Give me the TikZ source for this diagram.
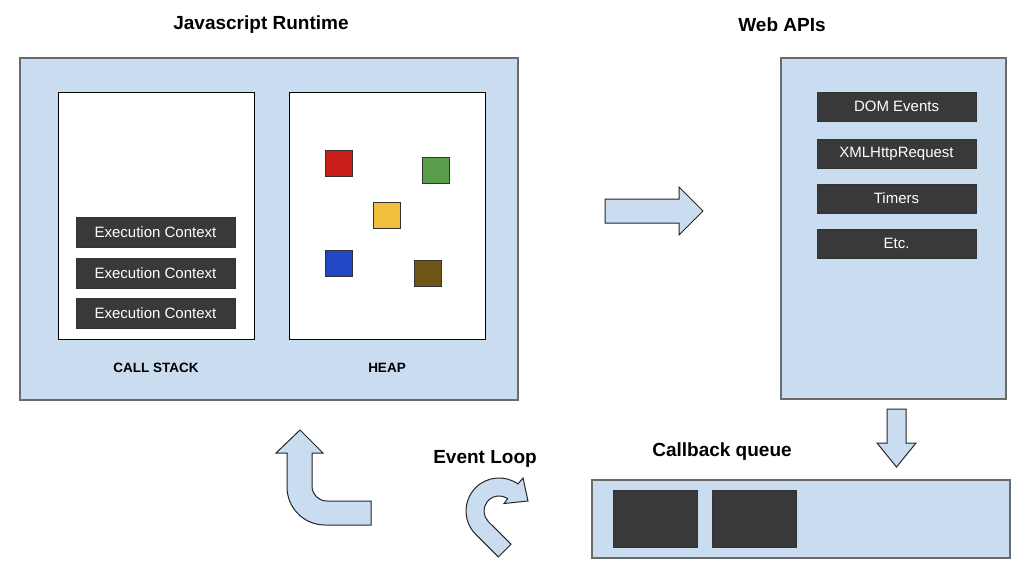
\documentclass[tikz,border=0pt]{standalone}
\usepackage{fontspec}
\setmainfont{Liberation Sans}
\definecolor{lblue}{HTML}{C9DCF0}
\definecolor{dbox}{HTML}{393939}
\definecolor{bgray}{HTML}{6B6B6B}
\definecolor{hred}{HTML}{C81F1A}
\definecolor{hgreen}{HTML}{5A9E4B}
\definecolor{hyellow}{HTML}{F0BF3C}
\definecolor{hblue}{HTML}{2148C4}
\definecolor{hbrown}{HTML}{6F5618}
\tikzset{
  panel/.style={draw=bgray, line width=1.4pt, fill=lblue, rectangle, inner sep=0pt},
  whitebox/.style={draw=black, line width=1pt, fill=white, rectangle, inner sep=0pt},
  darkbox/.style={draw=black!80, line width=0.8pt, fill=dbox, rectangle, inner sep=0pt, text=white, font=\fontsize{15}{17}\selectfont},
  sq/.style={draw=black!80, line width=1pt, rectangle, inner sep=0pt, minimum width=27pt, minimum height=26pt},
  title/.style={font=\fontsize{19}{22}\selectfont\bfseries, inner sep=0pt},
  caplabel/.style={font=\fontsize{13.5}{16}\selectfont\bfseries, inner sep=0pt},
  bigarrow/.style={draw=black!85, line width=1pt, fill=lblue, line join=miter},
}
\begin{document}
\begin{tikzpicture}[x=1pt,y=-1pt]
\useasboundingbox[fill=white] (0,0) rectangle (1032,579);

% Javascript runtime
\node[panel, minimum width=498pt, minimum height=342pt] (js) at (269,229) {};
\node[whitebox, minimum width=196pt, minimum height=247pt] (stack) at (156,215.5) {};
\node[whitebox, minimum width=196pt, minimum height=247pt] (heap) at (387,215.5) {};
\node[darkbox, minimum width=159pt, minimum height=30pt] (ec1) at (155.5,232) {Execution Context};
\node[darkbox, minimum width=159pt, minimum height=30pt] (ec2) at (155.5,273) {Execution Context};
\node[darkbox, minimum width=159pt, minimum height=30pt] (ec3) at (155.5,313) {Execution Context};
\node[caplabel] (stacklbl) at (156,368) {CALL STACK};
\node[caplabel] (heaplbl) at (387,368) {HEAP};
\node[title] (jstitle) at (261,25) {Javascript Runtime};

% heap objects
\node[sq, fill=hred] (o1) at (338.5,163) {};
\node[sq, fill=hgreen] (o2) at (435.5,170) {};
\node[sq, fill=hyellow] (o3) at (386.5,215) {};
\node[sq, fill=hblue] (o4) at (338.5,263) {};
\node[sq, fill=hbrown] (o5) at (427.5,273) {};

% Web APIs
\node[panel, minimum width=225pt, minimum height=341pt] (web) at (893.5,228.5) {};
\node[title] (webtitle) at (782,25) {Web APIs};
\node[darkbox, minimum width=159pt, minimum height=29pt] (w1) at (896.5,106.5) {DOM Events};
\node[darkbox, minimum width=159pt, minimum height=29pt] (w2) at (896.5,153.5) {XMLHttpRequest};
\node[darkbox, minimum width=159pt, minimum height=29pt] (w3) at (896.5,198.5) {Timers};
\node[darkbox, minimum width=159pt, minimum height=29pt] (w4) at (896.5,243.5) {Etc.};

% Callback queue
\node[panel, minimum width=418pt, minimum height=78pt] (queue) at (801,519) {};
\node[title] (qtitle) at (722,452) {Callback queue};
\node[darkbox, minimum width=84pt, minimum height=57pt] (q1) at (655,518.5) {};
\node[darkbox, minimum width=84pt, minimum height=57pt] (q2) at (754,518.5) {};

% Event loop label
\node[title] (eltitle) at (485,459) {Event Loop};

% right arrow
\draw[bigarrow] (605,199) -- (679,199) -- (679,187) -- (703,211) -- (679,235) -- (679,223) -- (605,223) -- cycle;
% down arrow
\draw[bigarrow] (887,409) -- (906,409) -- (906,443) -- (916,443) -- (896.5,467) -- (877,443) -- (887,443) -- cycle;
% bent up arrow
\draw[bigarrow] (371,525) -- (325,525) arc[start angle=90, end angle=180, radius=38]
  -- (287,453) -- (276,453) -- (300,430) -- (323,453) -- (312,453) -- (312,486)
  arc[start angle=180, end angle=90, radius=15] -- (371,501) -- cycle;
% event loop curved arrow
\draw[bigarrow] (498.3,556.9) -- (475.7,534.3) arc[start angle=135, end angle=305, radius=33]
  -- (523,478) -- (528,501) -- (504,503.5) -- (507.6,498.7)
  arc[start angle=305, end angle=135, radius=15] -- (511,544.2) -- cycle;
\end{tikzpicture}
\end{document}
